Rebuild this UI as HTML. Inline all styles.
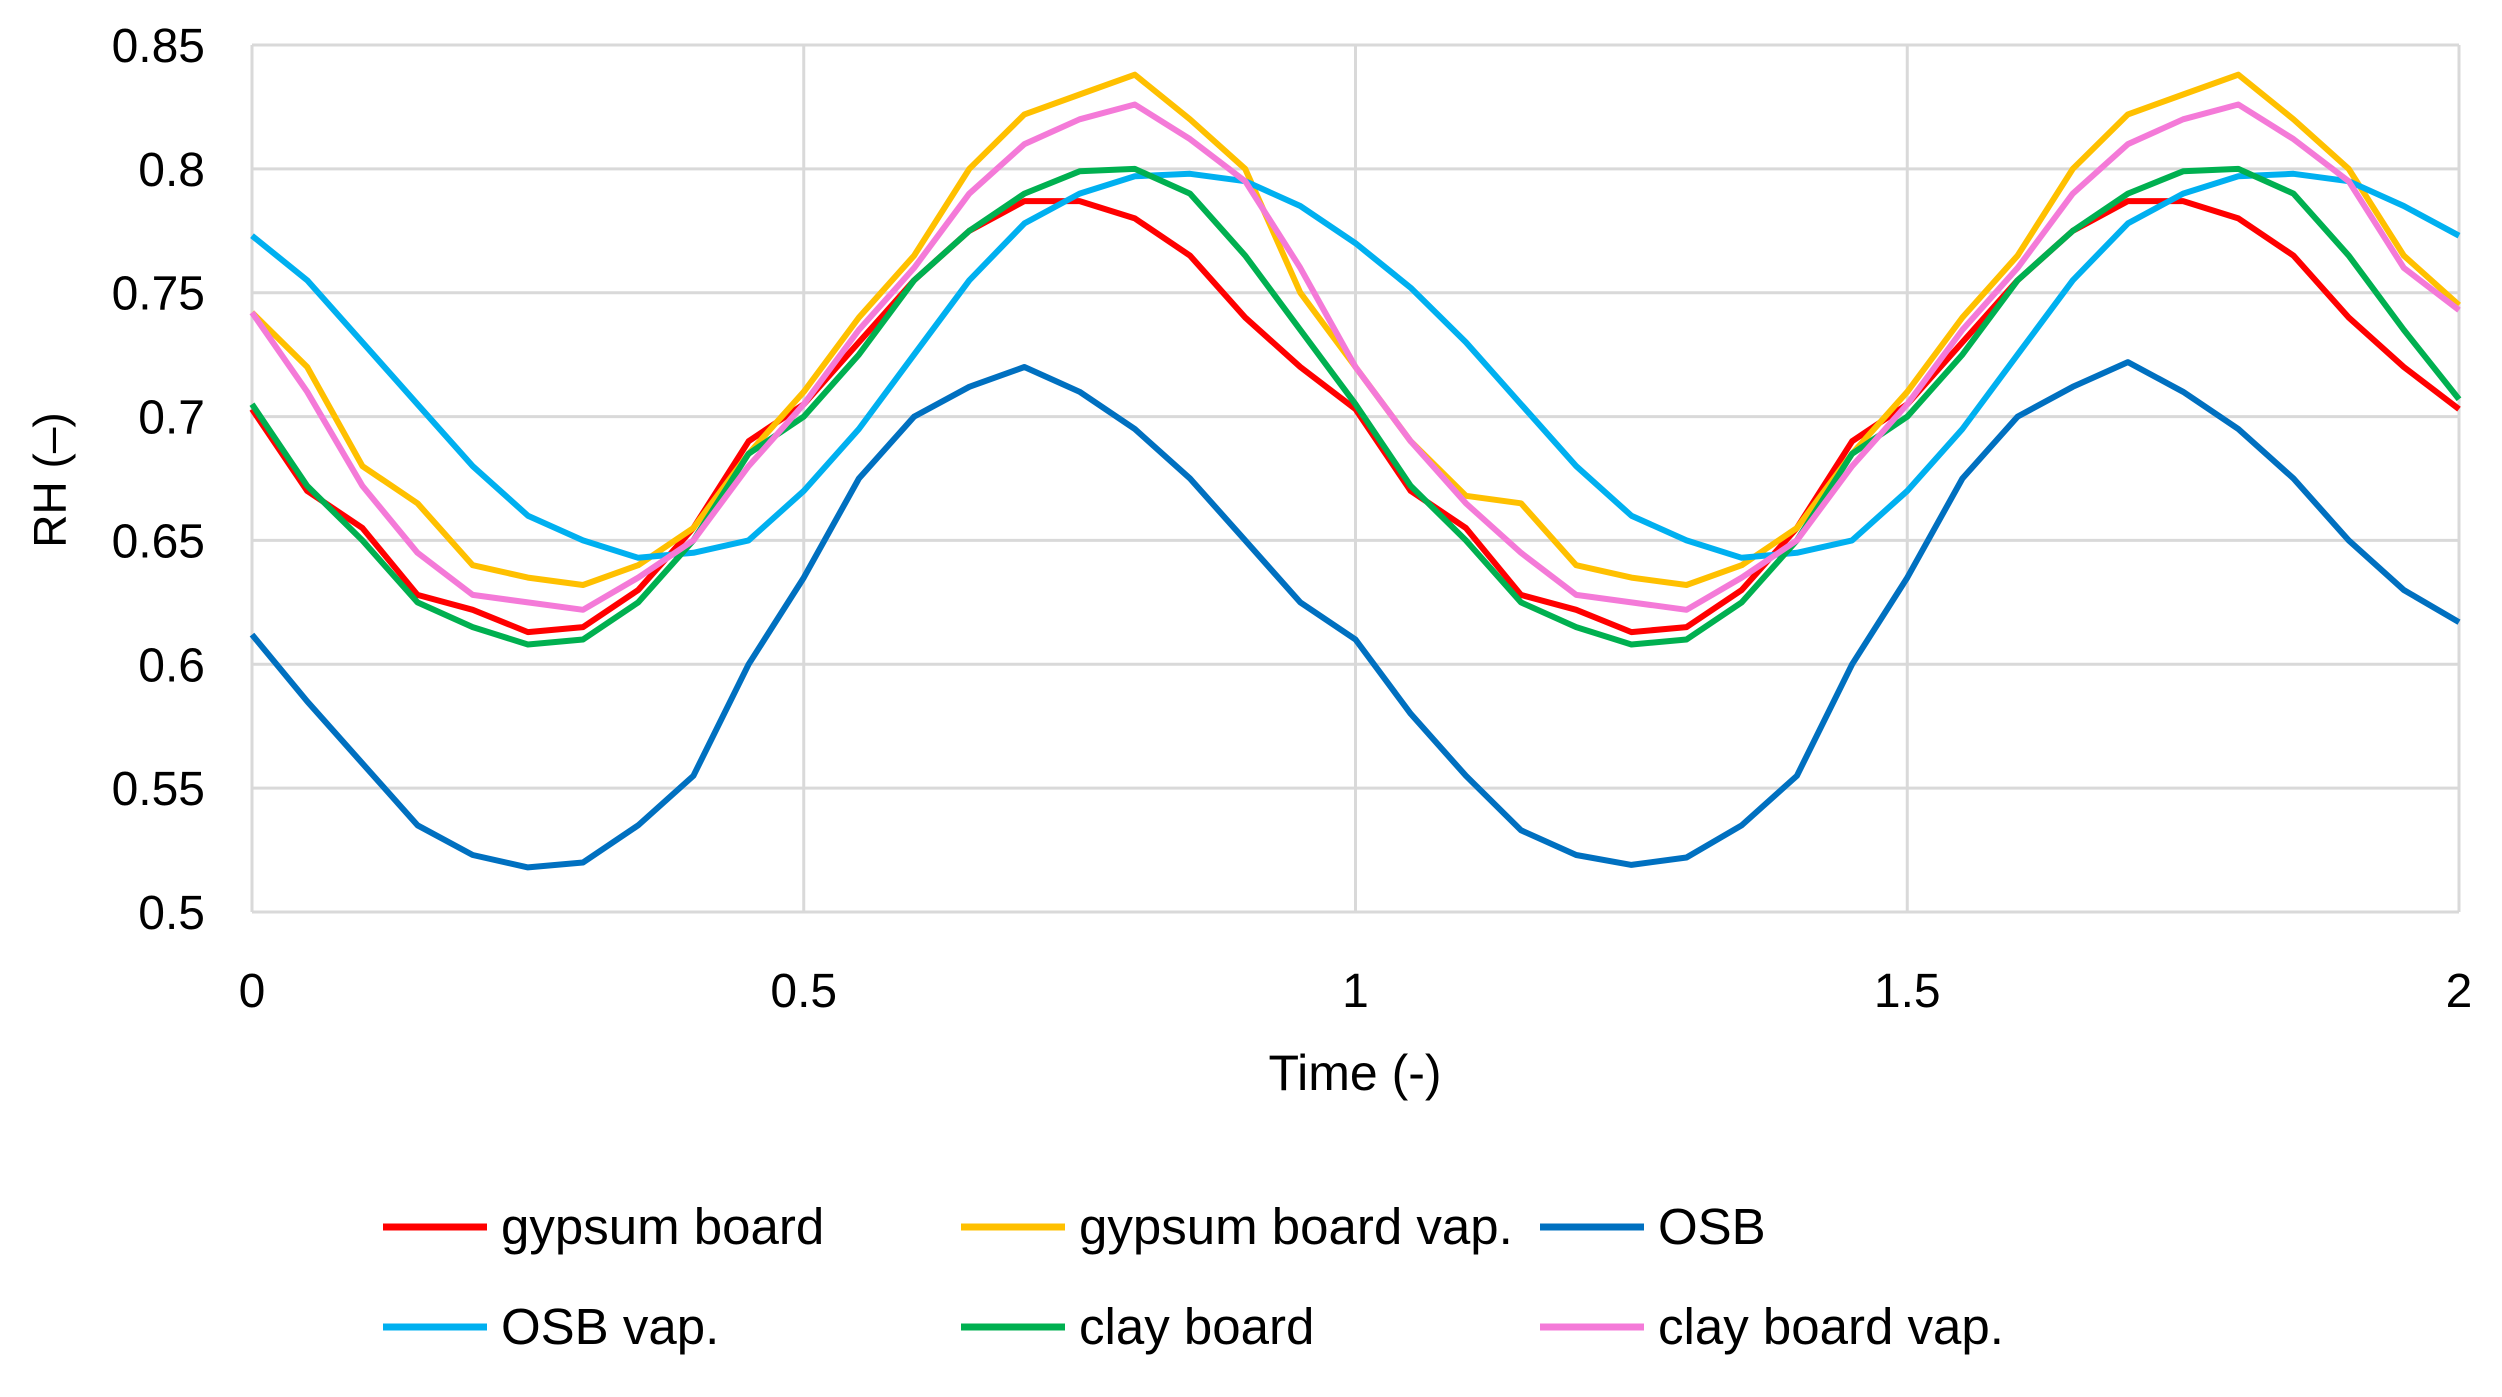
<!DOCTYPE html>
<html><head><meta charset="utf-8"><style>
html,body{margin:0;padding:0;background:#fff;}
svg{display:block;font-family:"Liberation Sans",sans-serif;}
</style></head><body>
<svg id="chart" width="2502" height="1397" viewBox="0 0 2502 1397" xmlns="http://www.w3.org/2000/svg">
<g id="grid"></g>
<g id="series"></g>
<g id="axes"></g>
<text x="1355" y="1090" font-size="50" text-anchor="middle" fill="#000">Time (-)</text>
<text transform="translate(66,480) rotate(-90)" font-size="46" text-anchor="middle" fill="#000">RH (–)</text>
<g id="legend"></g>
</svg>
<script>
const times = [0,0.05,0.1,0.15,0.2,0.25,0.3,0.35,0.4,0.45,0.5,0.55,0.6,0.65,0.7,0.75,0.8,0.85,0.9,0.95,1.0,1.05,1.1,1.15,1.2,1.25,1.3,1.35,1.4,1.45,1.5,1.55,1.6,1.65,1.7,1.75,1.8,1.85,1.9,1.95,2.0];
const gypsum = [0.703,0.67,0.655,0.628,0.622,0.613,0.615,0.63,0.655,0.69,0.705,0.73,0.755,0.775,0.787,0.787,0.78,0.765,0.74,0.72,0.703,0.67,0.655,0.628,0.622,0.613,0.615,0.63,0.655,0.69,0.705,0.73,0.755,0.775,0.787,0.787,0.78,0.765,0.74,0.72,0.703];
const gypsumVap = [0.742,0.72,0.68,0.665,0.64,0.635,0.632,0.64,0.655,0.685,0.71,0.74,0.765,0.80,0.822,0.83,0.838,0.82,0.80,0.75,0.72,0.69,0.668,0.665,0.64,0.635,0.632,0.64,0.655,0.685,0.71,0.74,0.765,0.80,0.822,0.83,0.838,0.82,0.80,0.765,0.745];
const osb = [0.612,0.585,0.56,0.535,0.523,0.518,0.52,0.535,0.555,0.60,0.635,0.675,0.70,0.712,0.72,0.71,0.695,0.675,0.65,0.625,0.61,0.58,0.555,0.533,0.523,0.519,0.522,0.535,0.555,0.60,0.635,0.675,0.70,0.712,0.722,0.71,0.695,0.675,0.65,0.63,0.617];
const osbVap = [0.773,0.755,0.73,0.705,0.68,0.66,0.65,0.643,0.645,0.65,0.67,0.695,0.725,0.755,0.778,0.79,0.797,0.798,0.795,0.785,0.77,0.752,0.73,0.705,0.68,0.66,0.65,0.643,0.645,0.65,0.67,0.695,0.725,0.755,0.778,0.79,0.797,0.798,0.795,0.785,0.773];
const clay = [0.705,0.672,0.65,0.625,0.615,0.608,0.61,0.625,0.65,0.685,0.70,0.725,0.755,0.775,0.79,0.799,0.80,0.79,0.765,0.735,0.705,0.672,0.65,0.625,0.615,0.608,0.61,0.625,0.65,0.685,0.70,0.725,0.755,0.775,0.79,0.799,0.80,0.79,0.765,0.735,0.707];
const clayVap = [0.742,0.71,0.672,0.645,0.628,0.625,0.622,0.635,0.65,0.68,0.705,0.735,0.76,0.79,0.81,0.82,0.826,0.812,0.795,0.76,0.72,0.69,0.665,0.645,0.628,0.625,0.622,0.635,0.65,0.68,0.705,0.735,0.76,0.79,0.81,0.82,0.826,0.812,0.795,0.76,0.743];
const seriesNames = ["gypsum board","gypsum board vap.","OSB","OSB vap.","clay board","clay board vap."];
const seriesData = [gypsum,gypsumVap,osb,osbVap,clay,clayVap];
const seriesColors = ["#ff0000","#ffc000","#0070c0","#00b0f0","#00b050","#f47ad8"];
const xTicks = [0,0.5,1,1.5,2];
const xTickLabels = ["0","0.5","1","1.5","2"];
const yTicks = [0.5,0.55,0.6,0.65,0.7,0.75,0.8,0.85];
const yTickLabels = ["0.5","0.55","0.6","0.65","0.7","0.75","0.8","0.85"];

const NS="http://www.w3.org/2000/svg";
const X0=252,X1=2459,Y0=912,Y1=45;
const xs=t=>X0+(t-0)/(2-0)*(X1-X0);
const ys=v=>Y0-(v-0.5)/(0.85-0.5)*(Y0-Y1);
function mk(tag,parent){const e=document.createElementNS(NS,tag);parent.appendChild(e);return e;}
const grid=document.getElementById('grid'),axes=document.getElementById('axes');
yTicks.forEach((v,i)=>{
  const l=mk('line',grid);
  
  
  l.setAttribute('x1',X0);l.setAttribute('x2',X1);l.setAttribute('y1',ys(v));l.setAttribute('y2',ys(v));
  l.setAttribute('stroke','#d9d9d9');l.setAttribute('stroke-width','3');
  const t=mk('text',axes);
  
  
  t.setAttribute('x',205);t.setAttribute('y',ys(v)+17);t.setAttribute('font-size','48');t.setAttribute('text-anchor','end');
  t.textContent=yTickLabels[i];
});
xTicks.forEach((v,i)=>{
  const l=mk('line',grid);
  
  
  l.setAttribute('x1',xs(v));l.setAttribute('x2',xs(v));l.setAttribute('y1',Y1);l.setAttribute('y2',Y0);
  l.setAttribute('stroke','#d9d9d9');l.setAttribute('stroke-width','3');
  const t=mk('text',axes);
  
  
  t.setAttribute('x',xs(v));t.setAttribute('y',1007);t.setAttribute('font-size','48');t.setAttribute('text-anchor','middle');
  t.textContent=xTickLabels[i];
});
const ser=document.getElementById('series');
seriesData.forEach((d,k)=>{
  const p=mk('polyline',ser);
  
  
  p.setAttribute('points',d.map((v,i)=>xs(times[i]).toFixed(1)+','+ys(v).toFixed(1)).join(' '));
  p.setAttribute('fill','none');p.setAttribute('stroke',seriesColors[k]);p.setAttribute('stroke-width','6');p.setAttribute('stroke-linejoin','round');
});
const leg=document.getElementById('legend');
const legX=[383,961,1540],legY=[1227,1327];
seriesNames.forEach((n,k)=>{
  const x=legX[k%3],y=legY[Math.floor(k/3)];
  const l=mk('line',leg);
  
  
  l.setAttribute('x1',x);l.setAttribute('x2',x+104);l.setAttribute('y1',y);l.setAttribute('y2',y);
  l.setAttribute('stroke',seriesColors[k]);l.setAttribute('stroke-width','7');
  const t=mk('text',leg);
  
  
  t.setAttribute('x',x+118);t.setAttribute('y',y+17);t.setAttribute('font-size','51');
  t.textContent=n;
});
</script>
</body></html>
